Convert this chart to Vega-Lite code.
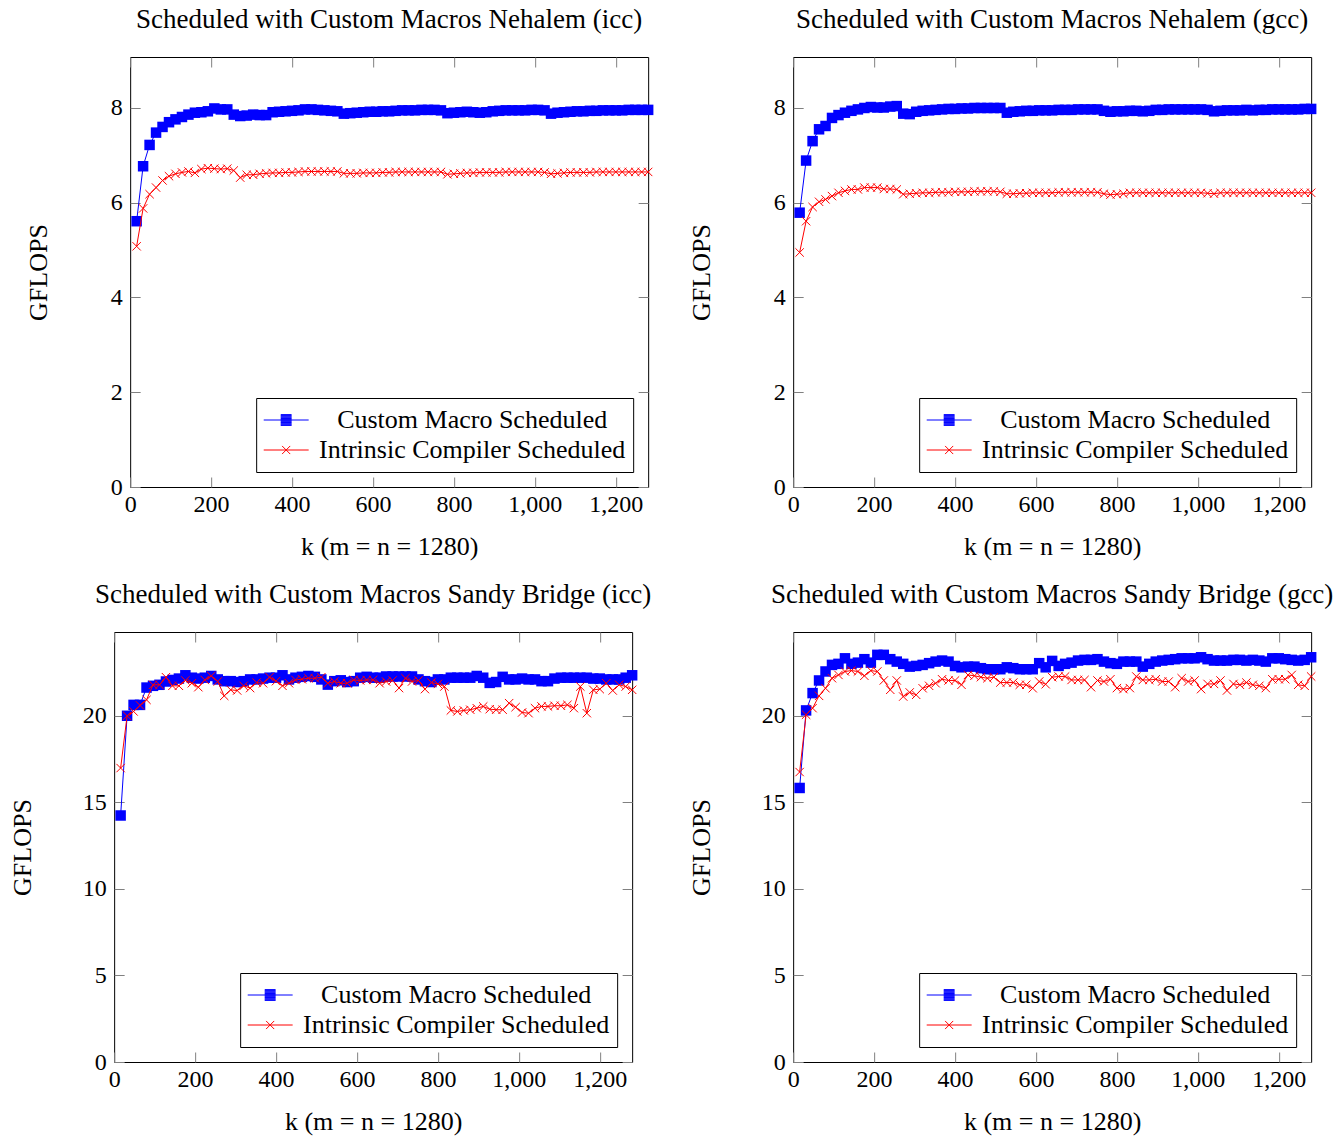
{
"$schema": "https://vega.github.io/schema/vega-lite/v6.json",
"padding": {"left": 8, "top": 5, "right": 5, "bottom": 5},
"background": "white",
"config": {
  "view": {"stroke": "black", "strokeWidth": 1},
  "font": "Liberation Serif",
  "axis": {"grid": false, "domain": false, "ticks": true, "tickColor": "#808080", "tickWidth": 1, "tickSize": -10,
    "labelFont": "Liberation Serif", "labelFontSize": 24, "labelColor": "black", "labelPadding": 18, "labelFlush": false, "labelOverlap": false, "labelBound": false,
    "titleFont": "Liberation Serif", "titleFontSize": 26, "titleFontWeight": "normal", "titleColor": "black"},
  "title": {"font": "Liberation Serif", "fontSize": 27, "fontWeight": "normal", "color": "black", "offset": 23, "frame": "group", "anchor": "middle"},
  "legend": {"title": null, "orient": "bottom-right", "offset": 15, "fillColor": "white", "strokeColor": "black", "strokeWidth": 1, "padding": 7,
    "labelFont": "Liberation Serif", "labelFontSize": 26, "labelColor": "black", "labelLimit": 600, "labelAlign": "center", "labelOffset": 163,
    "symbolSize": 2025, "symbolOpacity": 1, "symbolStrokeWidth": 1, "clipHeight": 30, "rowPadding": 0}
},
"datasets": {
"ni": [
{"k":16,"c":5.61,"i":5.08},{"k":32,"c":6.77,"i":5.88},{"k":48,"c":7.22,"i":6.18},{"k":64,"c":7.48,"i":6.32},{"k":80,"c":7.60,"i":6.47},{"k":96,"c":7.70,"i":6.56},{"k":112,"c":7.76,"i":6.61},{"k":128,"c":7.81,"i":6.64},{"k":144,"c":7.86,"i":6.66},{"k":160,"c":7.90,"i":6.63},
{"k":176,"c":7.91,"i":6.71},{"k":192,"c":7.93,"i":6.73},{"k":208,"c":7.99,"i":6.72},{"k":224,"c":7.97,"i":6.71},{"k":240,"c":7.97,"i":6.72},{"k":256,"c":7.86,"i":6.68},{"k":272,"c":7.83,"i":6.53},{"k":288,"c":7.84,"i":6.59},{"k":304,"c":7.86,"i":6.59},{"k":320,"c":7.85,"i":6.61},
{"k":336,"c":7.85,"i":6.62},{"k":352,"c":7.91,"i":6.63},{"k":368,"c":7.92,"i":6.63},{"k":384,"c":7.93,"i":6.64},{"k":400,"c":7.94,"i":6.64},{"k":416,"c":7.95,"i":6.65},{"k":432,"c":7.97,"i":6.66},{"k":448,"c":7.97,"i":6.66},{"k":464,"c":7.96,"i":6.66},{"k":480,"c":7.95,"i":6.66},
{"k":496,"c":7.94,"i":6.66},{"k":512,"c":7.93,"i":6.66},{"k":528,"c":7.88,"i":6.62},{"k":544,"c":7.89,"i":6.62},{"k":560,"c":7.90,"i":6.62},{"k":576,"c":7.91,"i":6.63},{"k":592,"c":7.92,"i":6.63},{"k":608,"c":7.92,"i":6.63},{"k":624,"c":7.93,"i":6.64},{"k":640,"c":7.93,"i":6.64},
{"k":656,"c":7.94,"i":6.65},{"k":672,"c":7.95,"i":6.65},{"k":688,"c":7.95,"i":6.65},{"k":704,"c":7.95,"i":6.65},{"k":720,"c":7.96,"i":6.65},{"k":736,"c":7.96,"i":6.65},{"k":752,"c":7.96,"i":6.65},{"k":768,"c":7.95,"i":6.65},{"k":784,"c":7.89,"i":6.60},{"k":800,"c":7.90,"i":6.61},
{"k":816,"c":7.91,"i":6.62},{"k":832,"c":7.92,"i":6.63},{"k":848,"c":7.91,"i":6.63},{"k":864,"c":7.90,"i":6.64},{"k":880,"c":7.91,"i":6.64},{"k":896,"c":7.93,"i":6.64},{"k":912,"c":7.94,"i":6.64},{"k":928,"c":7.95,"i":6.65},{"k":944,"c":7.95,"i":6.65},{"k":960,"c":7.95,"i":6.65},
{"k":976,"c":7.95,"i":6.65},{"k":992,"c":7.96,"i":6.65},{"k":1008,"c":7.96,"i":6.65},{"k":1024,"c":7.95,"i":6.64},{"k":1040,"c":7.88,"i":6.61},{"k":1056,"c":7.90,"i":6.62},{"k":1072,"c":7.91,"i":6.63},{"k":1088,"c":7.92,"i":6.64},{"k":1104,"c":7.93,"i":6.64},{"k":1120,"c":7.93,"i":6.64},
{"k":1136,"c":7.94,"i":6.64},{"k":1152,"c":7.94,"i":6.65},{"k":1168,"c":7.95,"i":6.65},{"k":1184,"c":7.95,"i":6.65},{"k":1200,"c":7.95,"i":6.65},{"k":1216,"c":7.95,"i":6.65},{"k":1232,"c":7.96,"i":6.65},{"k":1248,"c":7.96,"i":6.65},{"k":1264,"c":7.96,"i":6.65},{"k":1280,"c":7.96,"i":6.65}
],
"ng": [
{"k":16,"c":5.79,"i":4.95},{"k":32,"c":6.89,"i":5.61},{"k":48,"c":7.30,"i":5.91},{"k":64,"c":7.55,"i":6.02},{"k":80,"c":7.62,"i":6.07},{"k":96,"c":7.79,"i":6.14},{"k":112,"c":7.85,"i":6.21},{"k":128,"c":7.90,"i":6.25},{"k":144,"c":7.94,"i":6.28},{"k":160,"c":7.97,"i":6.28},
{"k":176,"c":8.00,"i":6.32},{"k":192,"c":8.02,"i":6.32},{"k":208,"c":8.01,"i":6.32},{"k":224,"c":8.01,"i":6.29},{"k":240,"c":8.03,"i":6.29},{"k":256,"c":8.04,"i":6.28},{"k":272,"c":7.88,"i":6.18},{"k":288,"c":7.87,"i":6.19},{"k":304,"c":7.92,"i":6.20},{"k":320,"c":7.94,"i":6.21},
{"k":336,"c":7.95,"i":6.21},{"k":352,"c":7.96,"i":6.22},{"k":368,"c":7.97,"i":6.22},{"k":384,"c":7.98,"i":6.22},{"k":400,"c":7.98,"i":6.23},{"k":416,"c":7.99,"i":6.23},{"k":432,"c":7.99,"i":6.23},{"k":448,"c":8.00,"i":6.24},{"k":464,"c":8.00,"i":6.24},{"k":480,"c":8.00,"i":6.24},
{"k":496,"c":8.00,"i":6.24},{"k":512,"c":8.00,"i":6.23},{"k":528,"c":7.90,"i":6.19},{"k":544,"c":7.92,"i":6.19},{"k":560,"c":7.93,"i":6.20},{"k":576,"c":7.94,"i":6.20},{"k":592,"c":7.94,"i":6.21},{"k":608,"c":7.95,"i":6.21},{"k":624,"c":7.95,"i":6.21},{"k":640,"c":7.95,"i":6.21},
{"k":656,"c":7.96,"i":6.22},{"k":672,"c":7.96,"i":6.22},{"k":688,"c":7.96,"i":6.22},{"k":704,"c":7.97,"i":6.22},{"k":720,"c":7.97,"i":6.22},{"k":736,"c":7.97,"i":6.22},{"k":752,"c":7.97,"i":6.22},{"k":768,"c":7.94,"i":6.19},{"k":784,"c":7.92,"i":6.17},{"k":800,"c":7.93,"i":6.18},
{"k":816,"c":7.93,"i":6.19},{"k":832,"c":7.94,"i":6.21},{"k":848,"c":7.94,"i":6.21},{"k":864,"c":7.93,"i":6.21},{"k":880,"c":7.94,"i":6.21},{"k":896,"c":7.96,"i":6.21},{"k":912,"c":7.96,"i":6.21},{"k":928,"c":7.97,"i":6.21},{"k":944,"c":7.97,"i":6.21},{"k":960,"c":7.97,"i":6.21},
{"k":976,"c":7.97,"i":6.21},{"k":992,"c":7.97,"i":6.21},{"k":1008,"c":7.97,"i":6.21},{"k":1024,"c":7.96,"i":6.20},{"k":1040,"c":7.93,"i":6.19},{"k":1056,"c":7.94,"i":6.21},{"k":1072,"c":7.95,"i":6.21},{"k":1088,"c":7.95,"i":6.21},{"k":1104,"c":7.95,"i":6.21},{"k":1120,"c":7.96,"i":6.21},
{"k":1136,"c":7.95,"i":6.21},{"k":1152,"c":7.96,"i":6.21},{"k":1168,"c":7.96,"i":6.21},{"k":1184,"c":7.97,"i":6.21},{"k":1200,"c":7.97,"i":6.21},{"k":1216,"c":7.97,"i":6.21},{"k":1232,"c":7.97,"i":6.21},{"k":1248,"c":7.97,"i":6.21},{"k":1264,"c":7.98,"i":6.21},{"k":1280,"c":7.98,"i":6.21}
],
"si": [
{"k":16,"c":14.24,"i":16.98},{"k":32,"c":20.0,"i":20.0},{"k":48,"c":20.63,"i":20.25},{"k":64,"c":20.63,"i":20.6},{"k":80,"c":21.63,"i":20.92},{"k":96,"c":21.73,"i":21.79},{"k":112,"c":21.79,"i":21.79},{"k":128,"c":21.98,"i":22.23},{"k":144,"c":22.07,"i":21.73},{"k":160,"c":22.15,"i":21.73},
{"k":176,"c":22.34,"i":22.04},{"k":192,"c":22.2,"i":21.88},{"k":208,"c":22.15,"i":21.65},{"k":224,"c":22.2,"i":22.07},{"k":240,"c":22.3,"i":22.3},{"k":256,"c":22.1,"i":21.98},{"k":272,"c":22.0,"i":21.15},{"k":288,"c":22.0,"i":21.5},{"k":304,"c":21.95,"i":21.46},{"k":320,"c":22.0,"i":21.73},
{"k":336,"c":22.1,"i":21.6},{"k":352,"c":22.1,"i":21.92},{"k":368,"c":22.15,"i":21.88},{"k":384,"c":22.2,"i":22.23},{"k":400,"c":22.2,"i":22.0},{"k":416,"c":22.34,"i":21.73},{"k":432,"c":22.1,"i":21.88},{"k":448,"c":22.2,"i":22.07},{"k":464,"c":22.25,"i":22.11},{"k":480,"c":22.3,"i":22.17},
{"k":496,"c":22.25,"i":22.17},{"k":512,"c":22.1,"i":22.23},{"k":528,"c":21.8,"i":21.88},{"k":544,"c":22.0,"i":21.98},{"k":560,"c":22.05,"i":21.88},{"k":576,"c":21.95,"i":21.88},{"k":592,"c":22.0,"i":22.07},{"k":608,"c":22.2,"i":22.04},{"k":624,"c":22.25,"i":22.07},{"k":640,"c":22.2,"i":22.07},
{"k":656,"c":22.2,"i":21.88},{"k":672,"c":22.27,"i":21.98},{"k":688,"c":22.27,"i":22.04},{"k":704,"c":22.27,"i":21.6},{"k":720,"c":22.27,"i":22.17},{"k":736,"c":22.27,"i":21.98},{"k":752,"c":22.1,"i":22.04},{"k":768,"c":22.0,"i":21.54},{"k":784,"c":21.95,"i":21.92},{"k":800,"c":22.1,"i":21.84},
{"k":816,"c":22.1,"i":21.69},{"k":832,"c":22.2,"i":20.31},{"k":848,"c":22.2,"i":20.25},{"k":864,"c":22.2,"i":20.31},{"k":880,"c":22.2,"i":20.35},{"k":896,"c":22.3,"i":20.44},{"k":912,"c":22.2,"i":20.54},{"k":928,"c":21.9,"i":20.38},{"k":944,"c":21.95,"i":20.35},{"k":960,"c":22.25,"i":20.35},
{"k":976,"c":22.1,"i":20.73},{"k":992,"c":22.1,"i":20.5},{"k":1008,"c":22.15,"i":20.19},{"k":1024,"c":22.1,"i":20.15},{"k":1040,"c":22.1,"i":20.44},{"k":1056,"c":22.0,"i":20.54},{"k":1072,"c":22.0,"i":20.54},{"k":1088,"c":22.15,"i":20.58},{"k":1104,"c":22.2,"i":20.58},{"k":1120,"c":22.2,"i":20.63},
{"k":1136,"c":22.2,"i":20.44},{"k":1152,"c":22.2,"i":21.69},{"k":1168,"c":22.2,"i":20.15},{"k":1184,"c":22.15,"i":21.5},{"k":1200,"c":22.15,"i":21.54},{"k":1216,"c":22.1,"i":21.88},{"k":1232,"c":22.1,"i":21.46},{"k":1248,"c":22.1,"i":21.79},{"k":1264,"c":22.2,"i":21.69},{"k":1280,"c":22.34,"i":21.5}
],
"sg": [
{"k":16,"c":15.83,"i":16.75},{"k":32,"c":20.31,"i":20.06},{"k":48,"c":21.31,"i":20.44},{"k":64,"c":22.04,"i":21.15},{"k":80,"c":22.56,"i":21.59},{"k":96,"c":22.94,"i":22.17},{"k":112,"c":23.0,"i":22.36},{"k":128,"c":23.32,"i":22.56},{"k":144,"c":23.0,"i":22.61},{"k":160,"c":23.07,"i":22.56},
{"k":176,"c":23.27,"i":22.31},{"k":192,"c":23.07,"i":22.61},{"k":208,"c":23.52,"i":22.56},{"k":224,"c":23.52,"i":22.04},{"k":240,"c":23.27,"i":21.5},{"k":256,"c":23.13,"i":22.04},{"k":272,"c":23.0,"i":21.11},{"k":288,"c":22.84,"i":21.35},{"k":304,"c":22.88,"i":21.21},{"k":320,"c":22.94,"i":21.59},
{"k":336,"c":23.04,"i":21.73},{"k":352,"c":23.13,"i":21.88},{"k":368,"c":23.19,"i":22.11},{"k":384,"c":23.13,"i":22.04},{"k":400,"c":22.88,"i":22.04},{"k":416,"c":22.8,"i":21.79},{"k":432,"c":22.84,"i":22.36},{"k":448,"c":22.84,"i":22.31},{"k":464,"c":22.75,"i":22.23},{"k":480,"c":22.69,"i":22.17},
{"k":496,"c":22.69,"i":22.23},{"k":512,"c":22.69,"i":21.92},{"k":528,"c":22.8,"i":21.92},{"k":544,"c":22.75,"i":21.92},{"k":560,"c":22.69,"i":21.79},{"k":576,"c":22.69,"i":21.79},{"k":592,"c":22.69,"i":21.59},{"k":608,"c":23.04,"i":21.98},{"k":624,"c":22.8,"i":21.82},{"k":640,"c":23.17,"i":22.23},
{"k":656,"c":22.88,"i":22.27},{"k":672,"c":23.0,"i":22.27},{"k":688,"c":23.07,"i":22.07},{"k":704,"c":23.19,"i":22.07},{"k":720,"c":23.23,"i":22.07},{"k":736,"c":23.23,"i":21.65},{"k":752,"c":23.27,"i":22.04},{"k":768,"c":23.13,"i":21.98},{"k":784,"c":23.04,"i":22.11},{"k":800,"c":23.0,"i":21.6},
{"k":816,"c":23.13,"i":21.54},{"k":832,"c":23.13,"i":21.6},{"k":848,"c":23.13,"i":22.27},{"k":864,"c":22.84,"i":22.07},{"k":880,"c":23.0,"i":22.07},{"k":896,"c":23.13,"i":22.11},{"k":912,"c":23.19,"i":21.98},{"k":928,"c":23.23,"i":21.98},{"k":944,"c":23.27,"i":21.65},{"k":960,"c":23.32,"i":22.17},
{"k":976,"c":23.32,"i":21.98},{"k":992,"c":23.32,"i":22.04},{"k":1008,"c":23.38,"i":21.54},{"k":1024,"c":23.27,"i":21.84},{"k":1040,"c":23.19,"i":21.84},{"k":1056,"c":23.19,"i":22.04},{"k":1072,"c":23.19,"i":21.46},{"k":1088,"c":23.23,"i":21.84},{"k":1104,"c":23.23,"i":21.79},{"k":1120,"c":23.19,"i":21.92},
{"k":1136,"c":23.23,"i":21.79},{"k":1152,"c":23.19,"i":21.73},{"k":1168,"c":23.13,"i":21.6},{"k":1184,"c":23.32,"i":22.11},{"k":1200,"c":23.32,"i":22.11},{"k":1216,"c":23.27,"i":22.11},{"k":1232,"c":23.23,"i":22.36},{"k":1248,"c":23.19,"i":21.79},{"k":1264,"c":23.23,"i":21.73},{"k":1280,"c":23.38,"i":22.27}
]
},
"resolve": {"scale": {"color": "independent", "shape": "independent"}, "legend": {"color": "independent", "shape": "independent"}},
"center": true,
"spacing": 20,
"vconcat": [
{"spacing": 32,
 "resolve": {"scale": {"color": "independent", "shape": "independent"}, "legend": {"color": "independent", "shape": "independent"}},
 "hconcat": [
{
 "width": 518, "height": 430,
 "title": "Scheduled with Custom Macros Nehalem (icc)",
 "data": {"name": "ni"},
 "transform": [{"fold": ["c", "i"], "as": ["series", "gflops"]}],
 "layer": [
  {"transform": [{"filter": "datum.series == 'c'"}],
   "mark": {"type": "line", "strokeWidth": 1, "color": "blue"},
   "encoding": {
    "x": {"field": "k", "type": "quantitative", "scale": {"domain": [0, 1280], "nice": false, "zero": false}, "axis": {"orient": "bottom", "values": [0,200,400,600,800,1000,1200], "format": ",d", "title": "k (m = n = 1280)", "labelPadding": 15, "titlePadding": 17}},
    "y": {"field": "gflops", "type": "quantitative", "scale": {"domain": [0, 9.076], "nice": false}, "axis": {"orient": "left", "values": [0,2,4,6,8], "title": "GFLOPS", "titleX": -84, "titleY": 215, "titleAngle": -90, "titleAlign": "center", "titleBaseline": "alphabetic"}}
   }},
  {"transform": [{"filter": "datum.series == 'c'"}],
   "mark": {"type": "point", "shape": "square", "filled": true, "size": 110, "color": "blue", "opacity": 1},
   "encoding": {
    "x": {"field": "k", "type": "quantitative", "axis": {"orient": "top", "labels": false, "values": [0,200,400,600,800,1000,1200], "title": null}},
    "y": {"field": "gflops", "type": "quantitative", "axis": {"orient": "right", "labels": false, "values": [0,2,4,6,8], "title": null}}
   }},
  {"transform": [{"filter": "datum.series == 'i'"}],
   "mark": {"type": "line", "strokeWidth": 1, "color": "red"},
   "encoding": {"x": {"field": "k", "type": "quantitative", "axis": null}, "y": {"field": "gflops", "type": "quantitative", "axis": null}}},
  {"transform": [{"filter": "datum.series == 'i'"}],
   "mark": {"type": "point", "shape": "M-1,-1L1,1M-1,1L1,-1", "filled": false, "size": 70, "strokeWidth": 1, "color": "red", "opacity": 1},
   "encoding": {"x": {"field": "k", "type": "quantitative", "axis": null}, "y": {"field": "gflops", "type": "quantitative", "axis": null}}},
  {"transform": [{"filter": "datum.k == 640"}],
   "mark": {"type": "point", "filled": false, "opacity": 0, "size": 2025, "strokeWidth": 1},
   "encoding": {"x": {"field": "k", "type": "quantitative", "axis": null}, "y": {"field": "gflops", "type": "quantitative", "axis": null},
    "color": {"field": "series", "type": "nominal", "scale": {"domain": ["c", "i"], "range": ["blue", "red"]}, "legend": {"labelExpr": "datum.value == 'c' ? 'Custom Macro Scheduled' : 'Intrinsic Compiler Scheduled'"}},
    "shape": {"field": "series", "type": "nominal", "scale": {"domain": ["c", "i"], "range": ["M-1,0H1M-0.24,-0.24H0.24M-0.24,-0.205H0.24M-0.24,-0.17H0.24M-0.24,-0.135H0.24M-0.24,-0.1H0.24M-0.24,-0.065H0.24M-0.24,-0.03H0.24M-0.24,0.005H0.24M-0.24,0.04H0.24M-0.24,0.075H0.24M-0.24,0.11H0.24M-0.24,0.145H0.24M-0.24,0.18H0.24M-0.24,0.215H0.24M-0.24,0.24H0.24", "M-1,0H1M-0.18,-0.18L0.18,0.18M-0.18,0.18L0.18,-0.18"]}, "legend": {"labelExpr": "datum.value == 'c' ? 'Custom Macro Scheduled' : 'Intrinsic Compiler Scheduled'"}}
   }}
 ],
 "resolve": {"axis": {"x": "independent", "y": "independent"}}
},
{
 "width": 518, "height": 430,
 "title": "Scheduled with Custom Macros Nehalem (gcc)",
 "data": {"name": "ng"},
 "transform": [{"fold": ["c", "i"], "as": ["series", "gflops"]}],
 "layer": [
  {"transform": [{"filter": "datum.series == 'c'"}],
   "mark": {"type": "line", "strokeWidth": 1, "color": "blue"},
   "encoding": {
    "x": {"field": "k", "type": "quantitative", "scale": {"domain": [0, 1280], "nice": false, "zero": false}, "axis": {"orient": "bottom", "values": [0,200,400,600,800,1000,1200], "format": ",d", "title": "k (m = n = 1280)", "labelPadding": 15, "titlePadding": 17}},
    "y": {"field": "gflops", "type": "quantitative", "scale": {"domain": [0, 9.076], "nice": false}, "axis": {"orient": "left", "values": [0,2,4,6,8], "title": "GFLOPS", "titleX": -84, "titleY": 215, "titleAngle": -90, "titleAlign": "center", "titleBaseline": "alphabetic"}}
   }},
  {"transform": [{"filter": "datum.series == 'c'"}],
   "mark": {"type": "point", "shape": "square", "filled": true, "size": 110, "color": "blue", "opacity": 1},
   "encoding": {
    "x": {"field": "k", "type": "quantitative", "axis": {"orient": "top", "labels": false, "values": [0,200,400,600,800,1000,1200], "title": null}},
    "y": {"field": "gflops", "type": "quantitative", "axis": {"orient": "right", "labels": false, "values": [0,2,4,6,8], "title": null}}
   }},
  {"transform": [{"filter": "datum.series == 'i'"}],
   "mark": {"type": "line", "strokeWidth": 1, "color": "red"},
   "encoding": {"x": {"field": "k", "type": "quantitative", "axis": null}, "y": {"field": "gflops", "type": "quantitative", "axis": null}}},
  {"transform": [{"filter": "datum.series == 'i'"}],
   "mark": {"type": "point", "shape": "M-1,-1L1,1M-1,1L1,-1", "filled": false, "size": 70, "strokeWidth": 1, "color": "red", "opacity": 1},
   "encoding": {"x": {"field": "k", "type": "quantitative", "axis": null}, "y": {"field": "gflops", "type": "quantitative", "axis": null}}},
  {"transform": [{"filter": "datum.k == 640"}],
   "mark": {"type": "point", "filled": false, "opacity": 0, "size": 2025, "strokeWidth": 1},
   "encoding": {"x": {"field": "k", "type": "quantitative", "axis": null}, "y": {"field": "gflops", "type": "quantitative", "axis": null},
    "color": {"field": "series", "type": "nominal", "scale": {"domain": ["c", "i"], "range": ["blue", "red"]}, "legend": {"labelExpr": "datum.value == 'c' ? 'Custom Macro Scheduled' : 'Intrinsic Compiler Scheduled'"}},
    "shape": {"field": "series", "type": "nominal", "scale": {"domain": ["c", "i"], "range": ["M-1,0H1M-0.24,-0.24H0.24M-0.24,-0.205H0.24M-0.24,-0.17H0.24M-0.24,-0.135H0.24M-0.24,-0.1H0.24M-0.24,-0.065H0.24M-0.24,-0.03H0.24M-0.24,0.005H0.24M-0.24,0.04H0.24M-0.24,0.075H0.24M-0.24,0.11H0.24M-0.24,0.145H0.24M-0.24,0.18H0.24M-0.24,0.215H0.24M-0.24,0.24H0.24", "M-1,0H1M-0.18,-0.18L0.18,0.18M-0.18,0.18L0.18,-0.18"]}, "legend": {"labelExpr": "datum.value == 'c' ? 'Custom Macro Scheduled' : 'Intrinsic Compiler Scheduled'"}}
   }}
 ],
 "resolve": {"axis": {"x": "independent", "y": "independent"}}
}
]},
{"spacing": 35,
 "resolve": {"scale": {"color": "independent", "shape": "independent"}, "legend": {"color": "independent", "shape": "independent"}},
 "hconcat": [
{
 "width": 518, "height": 430,
 "title": "Scheduled with Custom Macros Sandy Bridge (icc)",
 "data": {"name": "si"},
 "transform": [{"fold": ["c", "i"], "as": ["series", "gflops"]}],
 "layer": [
  {"transform": [{"filter": "datum.series == 'c'"}],
   "mark": {"type": "line", "strokeWidth": 1, "color": "blue"},
   "encoding": {
    "x": {"field": "k", "type": "quantitative", "scale": {"domain": [0, 1280], "nice": false, "zero": false}, "axis": {"orient": "bottom", "values": [0,200,400,600,800,1000,1200], "format": ",d", "title": "k (m = n = 1280)", "labelPadding": 15, "titlePadding": 17}},
    "y": {"field": "gflops", "type": "quantitative", "scale": {"domain": [0, 24.84], "nice": false}, "axis": {"orient": "left", "values": [0,5,10,15,20], "title": "GFLOPS", "titleX": -84, "titleY": 215, "titleAngle": -90, "titleAlign": "center", "titleBaseline": "alphabetic"}}
   }},
  {"transform": [{"filter": "datum.series == 'c'"}],
   "mark": {"type": "point", "shape": "square", "filled": true, "size": 110, "color": "blue", "opacity": 1},
   "encoding": {
    "x": {"field": "k", "type": "quantitative", "axis": {"orient": "top", "labels": false, "values": [0,200,400,600,800,1000,1200], "title": null}},
    "y": {"field": "gflops", "type": "quantitative", "axis": {"orient": "right", "labels": false, "values": [0,5,10,15,20], "title": null}}
   }},
  {"transform": [{"filter": "datum.series == 'i'"}],
   "mark": {"type": "line", "strokeWidth": 1, "color": "red"},
   "encoding": {"x": {"field": "k", "type": "quantitative", "axis": null}, "y": {"field": "gflops", "type": "quantitative", "axis": null}}},
  {"transform": [{"filter": "datum.series == 'i'"}],
   "mark": {"type": "point", "shape": "M-1,-1L1,1M-1,1L1,-1", "filled": false, "size": 70, "strokeWidth": 1, "color": "red", "opacity": 1},
   "encoding": {"x": {"field": "k", "type": "quantitative", "axis": null}, "y": {"field": "gflops", "type": "quantitative", "axis": null}}},
  {"transform": [{"filter": "datum.k == 640"}],
   "mark": {"type": "point", "filled": false, "opacity": 0, "size": 2025, "strokeWidth": 1},
   "encoding": {"x": {"field": "k", "type": "quantitative", "axis": null}, "y": {"field": "gflops", "type": "quantitative", "axis": null},
    "color": {"field": "series", "type": "nominal", "scale": {"domain": ["c", "i"], "range": ["blue", "red"]}, "legend": {"labelExpr": "datum.value == 'c' ? 'Custom Macro Scheduled' : 'Intrinsic Compiler Scheduled'"}},
    "shape": {"field": "series", "type": "nominal", "scale": {"domain": ["c", "i"], "range": ["M-1,0H1M-0.24,-0.24H0.24M-0.24,-0.205H0.24M-0.24,-0.17H0.24M-0.24,-0.135H0.24M-0.24,-0.1H0.24M-0.24,-0.065H0.24M-0.24,-0.03H0.24M-0.24,0.005H0.24M-0.24,0.04H0.24M-0.24,0.075H0.24M-0.24,0.11H0.24M-0.24,0.145H0.24M-0.24,0.18H0.24M-0.24,0.215H0.24M-0.24,0.24H0.24", "M-1,0H1M-0.18,-0.18L0.18,0.18M-0.18,0.18L0.18,-0.18"]}, "legend": {"labelExpr": "datum.value == 'c' ? 'Custom Macro Scheduled' : 'Intrinsic Compiler Scheduled'"}}
   }}
 ],
 "resolve": {"axis": {"x": "independent", "y": "independent"}}
},
{
 "width": 518, "height": 430,
 "title": "Scheduled with Custom Macros Sandy Bridge (gcc)",
 "data": {"name": "sg"},
 "transform": [{"fold": ["c", "i"], "as": ["series", "gflops"]}],
 "layer": [
  {"transform": [{"filter": "datum.series == 'c'"}],
   "mark": {"type": "line", "strokeWidth": 1, "color": "blue"},
   "encoding": {
    "x": {"field": "k", "type": "quantitative", "scale": {"domain": [0, 1280], "nice": false, "zero": false}, "axis": {"orient": "bottom", "values": [0,200,400,600,800,1000,1200], "format": ",d", "title": "k (m = n = 1280)", "labelPadding": 15, "titlePadding": 17}},
    "y": {"field": "gflops", "type": "quantitative", "scale": {"domain": [0, 24.84], "nice": false}, "axis": {"orient": "left", "values": [0,5,10,15,20], "title": "GFLOPS", "titleX": -84, "titleY": 215, "titleAngle": -90, "titleAlign": "center", "titleBaseline": "alphabetic"}}
   }},
  {"transform": [{"filter": "datum.series == 'c'"}],
   "mark": {"type": "point", "shape": "square", "filled": true, "size": 110, "color": "blue", "opacity": 1},
   "encoding": {
    "x": {"field": "k", "type": "quantitative", "axis": {"orient": "top", "labels": false, "values": [0,200,400,600,800,1000,1200], "title": null}},
    "y": {"field": "gflops", "type": "quantitative", "axis": {"orient": "right", "labels": false, "values": [0,5,10,15,20], "title": null}}
   }},
  {"transform": [{"filter": "datum.series == 'i'"}],
   "mark": {"type": "line", "strokeWidth": 1, "color": "red"},
   "encoding": {"x": {"field": "k", "type": "quantitative", "axis": null}, "y": {"field": "gflops", "type": "quantitative", "axis": null}}},
  {"transform": [{"filter": "datum.series == 'i'"}],
   "mark": {"type": "point", "shape": "M-1,-1L1,1M-1,1L1,-1", "filled": false, "size": 70, "strokeWidth": 1, "color": "red", "opacity": 1},
   "encoding": {"x": {"field": "k", "type": "quantitative", "axis": null}, "y": {"field": "gflops", "type": "quantitative", "axis": null}}},
  {"transform": [{"filter": "datum.k == 640"}],
   "mark": {"type": "point", "filled": false, "opacity": 0, "size": 2025, "strokeWidth": 1},
   "encoding": {"x": {"field": "k", "type": "quantitative", "axis": null}, "y": {"field": "gflops", "type": "quantitative", "axis": null},
    "color": {"field": "series", "type": "nominal", "scale": {"domain": ["c", "i"], "range": ["blue", "red"]}, "legend": {"labelExpr": "datum.value == 'c' ? 'Custom Macro Scheduled' : 'Intrinsic Compiler Scheduled'"}},
    "shape": {"field": "series", "type": "nominal", "scale": {"domain": ["c", "i"], "range": ["M-1,0H1M-0.24,-0.24H0.24M-0.24,-0.205H0.24M-0.24,-0.17H0.24M-0.24,-0.135H0.24M-0.24,-0.1H0.24M-0.24,-0.065H0.24M-0.24,-0.03H0.24M-0.24,0.005H0.24M-0.24,0.04H0.24M-0.24,0.075H0.24M-0.24,0.11H0.24M-0.24,0.145H0.24M-0.24,0.18H0.24M-0.24,0.215H0.24M-0.24,0.24H0.24", "M-1,0H1M-0.18,-0.18L0.18,0.18M-0.18,0.18L0.18,-0.18"]}, "legend": {"labelExpr": "datum.value == 'c' ? 'Custom Macro Scheduled' : 'Intrinsic Compiler Scheduled'"}}
   }}
 ],
 "resolve": {"axis": {"x": "independent", "y": "independent"}}
}
]}
]
}
